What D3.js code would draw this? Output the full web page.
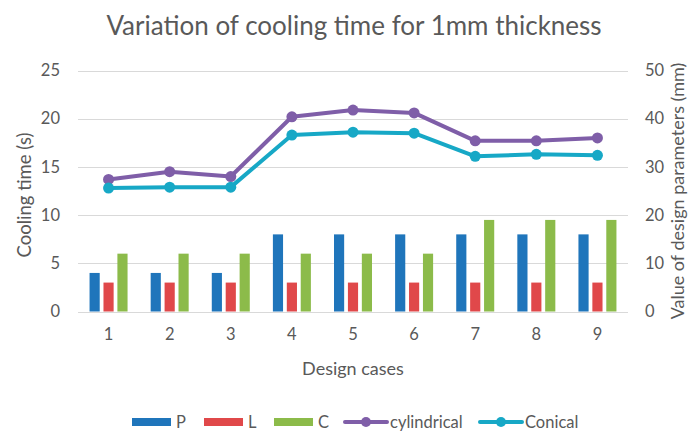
<!DOCTYPE html>
<html>
<head>
<meta charset="utf-8">
<script src="https://cdn.jsdelivr.net/npm/d3@7"></script>
<style>
  html, body { margin: 0; padding: 0; background: #fff; }
  svg { display: block; font-family: Lato, "Open Sans", sans-serif; }
</style>
</head>
<body>
<svg id="chart" width="693" height="434"></svg>
<script>
// Design cases along the x axis
const cases = ["1", "2", "3", "4", "5", "6", "7", "8", "9"];

// Design parameters (mm), right axis
const seriesP = [8, 8, 8, 16, 16, 16, 16, 16, 16];
const seriesL = [6, 6, 6, 6, 6, 6, 6, 6, 6];
const seriesC = [12, 12, 12, 12, 12, 12, 19, 19, 19];

// Cooling time (s), left axis
const cylindrical = [13.7, 14.5, 14.0, 20.2, 20.9, 20.6, 17.7, 17.7, 18.0];
const conical = [12.8, 12.9, 12.9, 18.3, 18.6, 18.5, 16.1, 16.3, 16.2];

const leftTicks = [0, 5, 10, 15, 20, 25];
const rightTicks = [0, 10, 20, 30, 40, 50];

const barSeries = [
  { name: "P", values: seriesP, color: "#1f75bb" },
  { name: "L", values: seriesL, color: "#e0484a" },
  { name: "C", values: seriesC, color: "#8cbb4a" }
];
const lineSeries = [
  { name: "cylindrical", values: cylindrical, color: "#7f5ea8" },
  { name: "Conical", values: conical, color: "#17a8c6" }
];

const svg = d3.select("#chart");
const plot = { left: 78, right: 628, top: 70.5, bottom: 311.5 };
const textColor = "#595959";

const x = d3.scaleBand().domain(cases).range([plot.left, plot.right]).padding(0);
const yLeft = d3.scaleLinear().domain([0, 25]).range([plot.bottom, plot.top]);
const yRight = d3.scaleLinear().domain([0, 50]).range([plot.bottom, plot.top]);
const inner = d3.scaleBand().domain(barSeries.map(d => d.name)).range([-19, 19]).paddingInner(0.27);

// Title
svg.append("text")
  .attr("x", 354).attr("y", 35)
  .attr("text-anchor", "middle")
  .attr("fill", textColor)
  .attr("font-size", 26)
  .text("Variation of cooling time for 1mm thickness");

// Gridlines
svg.append("g")
  .selectAll("line")
  .data(leftTicks)
  .join("line")
  .attr("x1", plot.left).attr("x2", plot.right)
  .attr("y1", d => Math.round(yLeft(d)) + 0.5)
  .attr("y2", d => Math.round(yLeft(d)) + 0.5)
  .attr("stroke", "#d9d9d9")
  .attr("stroke-width", 1);

// Left axis
const leftAxis = svg.append("g")
  .attr("transform", `translate(${plot.left},0)`)
  .call(d3.axisLeft(yLeft).tickValues(leftTicks).tickSize(0).tickPadding(18));
leftAxis.select(".domain").remove();
leftAxis.selectAll("text").attr("fill", textColor).attr("font-size", 16.5).attr("font-family", "Lato, sans-serif");

// Right axis
const rightAxis = svg.append("g")
  .attr("transform", `translate(${plot.right},0)`)
  .call(d3.axisRight(yRight).tickValues(rightTicks).tickSize(0).tickPadding(17));
rightAxis.select(".domain").remove();
rightAxis.selectAll("text").attr("fill", textColor).attr("font-size", 16.5).attr("font-family", "Lato, sans-serif");

// Bottom axis
const bottomAxis = svg.append("g")
  .attr("transform", `translate(0,${plot.bottom})`)
  .call(d3.axisBottom(x).tickSize(0).tickPadding(17));
bottomAxis.select(".domain").remove();
bottomAxis.selectAll("text").attr("fill", textColor).attr("font-size", 16.5).attr("font-family", "Lato, sans-serif");

// Axis titles
svg.append("text")
  .attr("transform", `translate(31,${(plot.top + plot.bottom) / 2 + 4}) rotate(-90)`)
  .attr("text-anchor", "middle")
  .attr("fill", textColor)
  .attr("font-size", 18.5)
  .text("Cooling time (s)");

svg.append("text")
  .attr("transform", `translate(684,${(plot.top + plot.bottom) / 2}) rotate(-90)`)
  .attr("text-anchor", "middle")
  .attr("fill", textColor)
  .attr("font-size", 18)
  .text("Value of design parameters (mm)");

svg.append("text")
  .attr("x", (plot.left + plot.right) / 2).attr("y", 375)
  .attr("text-anchor", "middle")
  .attr("fill", textColor)
  .attr("font-size", 18)
  .text("Design cases");

// Bars
const barG = svg.append("g");
barSeries.forEach(s => {
  barG.append("g")
    .selectAll("rect")
    .data(s.values)
    .join("rect")
    .attr("x", (d, i) => x(cases[i]) + x.bandwidth() / 2 + inner(s.name))
    .attr("width", inner.bandwidth())
    .attr("y", d => yRight(d))
    .attr("height", d => yRight(0) - yRight(d))
    .attr("fill", s.color);
});

// Lines with markers
const lineG = svg.append("g");
lineSeries.forEach(s => {
  const line = d3.line()
    .x((d, i) => x(cases[i]) + x.bandwidth() / 2)
    .y(d => yLeft(d));
  lineG.append("path")
    .datum(s.values)
    .attr("d", line)
    .attr("fill", "none")
    .attr("stroke", s.color)
    .attr("stroke-width", 4)
    .attr("stroke-linejoin", "round")
    .attr("stroke-linecap", "round");
  lineG.append("g")
    .selectAll("circle")
    .data(s.values)
    .join("circle")
    .attr("cx", (d, i) => x(cases[i]) + x.bandwidth() / 2)
    .attr("cy", d => yLeft(d))
    .attr("r", 5.5)
    .attr("fill", s.color);
});

// Legend
const legendY = 422;
const legend = svg.append("g");
const barLegendX = [132, 204, 274];
barSeries.forEach((s, i) => {
  const g = legend.append("g").attr("transform", `translate(${barLegendX[i]},${legendY})`);
  g.append("rect").attr("x", 0).attr("y", -4).attr("width", 39).attr("height", 8).attr("fill", s.color);
  g.append("text").attr("x", 44).attr("y", 0).attr("dy", "0.35em")
    .attr("fill", textColor).attr("font-size", 16.5).text(s.name);
});
const lineLegendX = [345, 480];
lineSeries.forEach((s, i) => {
  const g = legend.append("g").attr("transform", `translate(${lineLegendX[i]},${legendY})`);
  g.append("line").attr("x1", 0).attr("x2", 42).attr("y1", 0).attr("y2", 0)
    .attr("stroke", s.color).attr("stroke-width", 4).attr("stroke-linecap", "round");
  g.append("circle").attr("cx", 21).attr("cy", 0).attr("r", 5).attr("fill", s.color);
  g.append("text").attr("x", 45).attr("y", 0).attr("dy", "0.35em")
    .attr("fill", textColor).attr("font-size", 16.5).text(s.name);
});
</script>
</body>
</html>
